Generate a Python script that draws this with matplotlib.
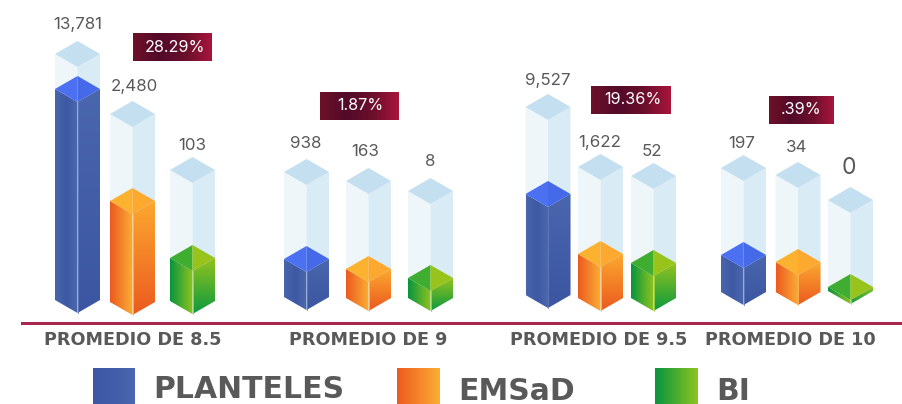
"""Pictogram style 3D bars: planteles, EMSaD and BI by grade average."""

import matplotlib

matplotlib.use("Agg")
import matplotlib.pyplot as plt
import numpy as np
from matplotlib.colors import LinearSegmentedColormap
from matplotlib.patches import Polygon, Rectangle

CATEGORIES = ["PROMEDIO DE 8.5", "PROMEDIO DE 9", "PROMEDIO DE 9.5", "PROMEDIO DE 10"]
SERIES = ["PLANTELES", "EMSaD", "BI"]
PERCENTS = ["28.29%", "1.87%", "19.36%", ".39%"]

# printed values
PLANTELES = [13781, 938, 9527, 197]
EMSAD = [2480, 163, 1622, 34]
BI = [103, 8, 52, 0]

# drawn heights (not proportional to the values)
PLANTELES_FILL = [237, 64, 127, 63]
EMSAD_FILL = [127, 55, 70, 56]
BI_FILL = [69, 46, 61, 30]
PLANTELES_GHOST = [272, 151, 214, 150]
EMSAD_GHOST = [214, 143, 157, 143]
BI_GHOST = [157, 133, 148, 117]

# layout, in pixels
CENTERS = [[77.5, 306.5, 548, 743.5], [132.5, 368.5, 600.5, 798], [192.5, 430.5, 653.5, 850.5]]
BOTTOMS = [[313, 310, 308, 305], [315, 311, 311, 305], [314, 311, 311, 304]]
LABEL_X = [[78, 306, 548, 742], [134, 365, 600, 797], [192, 430, 652, 849]]
LABEL_Y = [[24, 143, 81, 143], [86, 151, 142, 148], [145, 161, 151, 168]]
CATEGORY_X = [132.5, 368, 599, 790]
BADGES = [(133, 33, 79), (320, 92, 79), (591, 86, 80), (769, 96, 65)]
BADGE_TEXT_X = [175.5, 360, 633, 801.5]
LEGEND_BOXES = [(93, 42), (397, 43), (655, 43)]
LEGEND_TEXT_X = [153, 458, 716]
LEGEND_TEXT_Y = [389, 391, 391]
HALF_W = 22.5
HALF_H = 13

GHOST = ("#eef6fa", "#d9ecf5", "#c3dff0")
LEFT_STOPS = [["#4766ad", "#3e59a3", "#4c69af"], ["#ec5a1f", "#fbae35"], ["#07953f", "#8fc31f"]]
RIGHT_STOPS = [["#4a66ad", "#3c56a2"], ["#fba82f", "#ec5a1f"], ["#93c21e", "#0c9a3f"]]
TOP_COLORS = [("#4c70f2", "#4569e8"), ("#fdb22f", "#fda92f"), ("#3fad2f", "#97c31b")]
EDGE_COLORS = ["#6379b8", "#fbbb5c", "#b3d246"]
LEGEND_STOPS = [["#3c57a4", "#4a66ae"], ["#ec5a1f", "#fbae35"], ["#07953f", "#8fc31f"]]
BADGE_STOPS = ["#6d1128", "#530a29", "#6a0f2c", "#a8153c"]
TEXT_COLOR = "#595959"

plt.rcParams["font.family"] = ["Inter", "DejaVu Sans"]


def gradient(ax, box, stops, clip=None, vertical=False, zorder=2):
    x0, x1, y0, y1 = box
    ramp = np.linspace(0, 1, 128)
    ramp = ramp[:, None] if vertical else ramp[None, :]
    cmap = LinearSegmentedColormap.from_list("ramp", stops)
    im = ax.imshow(ramp, cmap=cmap, extent=(x0, x1, y1, y0), aspect="auto",
                   interpolation="bilinear", zorder=zorder, vmin=0, vmax=1)
    if clip is not None:
        im.set_clip_path(Polygon(clip, transform=ax.transData))


def faces(cx, top, bottom):
    rim = top + HALF_H
    front = top + 2 * HALF_H
    left = [(cx - HALF_W, rim), (cx, front), (cx, bottom), (cx - HALF_W, bottom - HALF_H)]
    right = [(cx + HALF_W, rim), (cx, front), (cx, bottom), (cx + HALF_W, bottom - HALF_H)]
    return left, right


def draw_bar(ax, s, cx, bottom, fill_h, ghost_h):
    # pale column behind the filled part
    top = bottom - ghost_h
    left, right = faces(cx, top, bottom)
    ax.add_patch(Polygon(left, color=GHOST[0], lw=0, zorder=1))
    ax.add_patch(Polygon(right, color=GHOST[1], lw=0, zorder=1))
    ax.add_patch(Polygon([(cx - HALF_W, top + HALF_H), (cx, top), (cx + HALF_W, top + HALF_H),
                          (cx, top + 2 * HALF_H)], color=GHOST[2], lw=0, zorder=1))

    top = bottom - fill_h
    left, right = faces(cx, top, bottom)
    gradient(ax, (cx - HALF_W, cx, top, bottom), LEFT_STOPS[s], clip=left)
    gradient(ax, (cx, cx + HALF_W, top + HALF_H, bottom), RIGHT_STOPS[s], clip=right, vertical=True)
    rim, front = top + HALF_H, top + 2 * HALF_H
    ax.add_patch(Polygon([(cx - HALF_W, rim), (cx, top), (cx, front)],
                         color=TOP_COLORS[s][0], lw=0, zorder=3))
    ax.add_patch(Polygon([(cx + HALF_W, rim), (cx, top), (cx, front)],
                         color=TOP_COLORS[s][1], lw=0, zorder=3))
    ax.plot([cx, cx], [front, bottom], color=EDGE_COLORS[s], lw=0.6, zorder=4)


def main():
    fig = plt.figure(figsize=(9.02, 4.04), dpi=100)
    ax = fig.add_axes([0, 0, 1, 1])

    values = [PLANTELES, EMSAD, BI]
    fills = [PLANTELES_FILL, EMSAD_FILL, BI_FILL]
    ghosts = [PLANTELES_GHOST, EMSAD_GHOST, BI_GHOST]

    for s in range(len(SERIES)):
        for c in range(len(CATEGORIES)):
            draw_bar(ax, s, CENTERS[s][c], BOTTOMS[s][c], fills[s][c], ghosts[s][c])
            value = values[s][c]
            ax.text(LABEL_X[s][c], LABEL_Y[s][c], f"{value:,}", ha="center", va="center",
                    fontsize=16.5 if value == 0 else 12.2, color=TEXT_COLOR)

    for text, text_x, (x, y, w) in zip(PERCENTS, BADGE_TEXT_X, BADGES):
        gradient(ax, (x, x + w, y, y + 28), BADGE_STOPS)
        ax.text(text_x, y + 14, text, ha="center", va="center", fontsize=11.7,
                color="white", zorder=5)

    ax.add_patch(Rectangle((21, 321.5), 881, 3, color="#a8274f", lw=0, zorder=2))
    for text, x in zip(CATEGORIES, CATEGORY_X):
        ax.text(x, 340, text, ha="center", va="center", fontsize=12.7, fontweight="bold",
                family="DejaVu Sans", color=TEXT_COLOR)

    for s, name in enumerate(SERIES):
        x, w = LEGEND_BOXES[s]
        gradient(ax, (x, x + w, 368, 404), LEGEND_STOPS[s])
        ax.text(LEGEND_TEXT_X[s], LEGEND_TEXT_Y[s], name, ha="left", va="center", fontsize=21.5,
                fontweight="bold", family="DejaVu Sans", color=TEXT_COLOR)

    ax.set_xlim(0, 902)
    ax.set_ylim(404, 0)
    ax.axis("off")
    fig.savefig("out.png", dpi=100, facecolor="white")
    plt.close(fig)


if __name__ == "__main__":
    main()
